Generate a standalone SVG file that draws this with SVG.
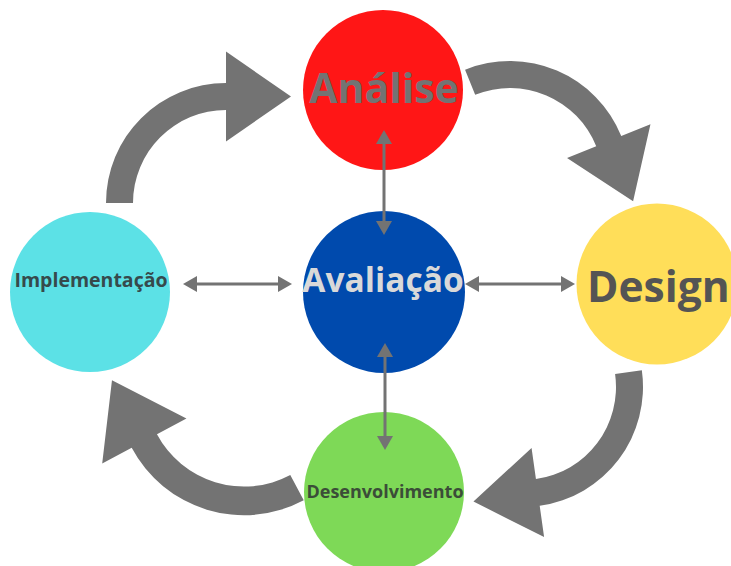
<svg xmlns="http://www.w3.org/2000/svg" width="731" height="566" viewBox="0 0 731 566">
  <style>
    .lbl { font-family: "Open Sans", "Liberation Sans", sans-serif; font-weight: bold; }
    .big { fill: #737373; }
    .dbl { stroke: #737373; stroke-width: 3; fill: none; marker-start: url(#ah); marker-end: url(#ah); }
  </style>
  <defs>
    <marker id="ah" markerUnits="userSpaceOnUse" markerWidth="14" markerHeight="16" refX="10" refY="8" orient="auto-start-reverse">
      <path d="M0,0 L14,8 L0,16 z" fill="#737373"/>
    </marker>
    <path id="curve" d="M -120 0 A 120 120 0 0 1 0 -120 L 0 -151.5 L 65 -106.5 L 0 -61.5 L 0 -93 A 93 93 0 0 0 -93 0 Z"/>
  </defs>
  <rect width="731" height="566" fill="#ffffff"/>

  <g id="analise">
    <circle cx="383" cy="90" r="80" fill="#ff1616"/>
    <text class="lbl" x="384" y="103" font-size="41" text-anchor="middle" fill="#737373">Análise</text>
  </g>
  <g id="avaliacao">
    <circle cx="384" cy="292" r="81" fill="#004aad"/>
    <text class="lbl" x="383" y="292" font-size="33.5" text-anchor="middle" fill="#d9d9d9">Avaliação</text>
  </g>
  <g id="design">
    <circle cx="657" cy="284" r="80.5" fill="#ffde59"/>
    <text class="lbl" x="587" y="302" font-size="42.5" fill="#545454">Design</text>
  </g>
  <g id="implementacao">
    <circle cx="90" cy="292" r="80" fill="#5ce1e6"/>
    <text class="lbl" x="91" y="287" font-size="19.5" text-anchor="middle" fill="#364a4c">Implementação</text>
  </g>
  <g id="desenvolvimento">
    <circle cx="384" cy="492" r="80" fill="#7ed957"/>
    <text class="lbl" x="385" y="498" font-size="18" text-anchor="middle" fill="#3b4d38">Desenvolvimento</text>
  </g>

  <g id="connectors">
    <use href="#curve" class="big" transform="translate(226,203)"/>
    <use href="#curve" class="big" transform="translate(510,181) rotate(68)"/>
    <use href="#curve" class="big" transform="translate(523,387) rotate(172)"/>
    <use href="#curve" class="big" transform="translate(244,388) rotate(-118) scale(1.06)"/>
    <line class="dbl" x1="187" y1="284" x2="288" y2="284"/>
    <line class="dbl" x1="469" y1="284" x2="571" y2="284"/>
    <line class="dbl" x1="384" y1="134" x2="384" y2="231"/>
    <line class="dbl" x1="385" y1="347" x2="385" y2="446"/>
  </g>
</svg>
